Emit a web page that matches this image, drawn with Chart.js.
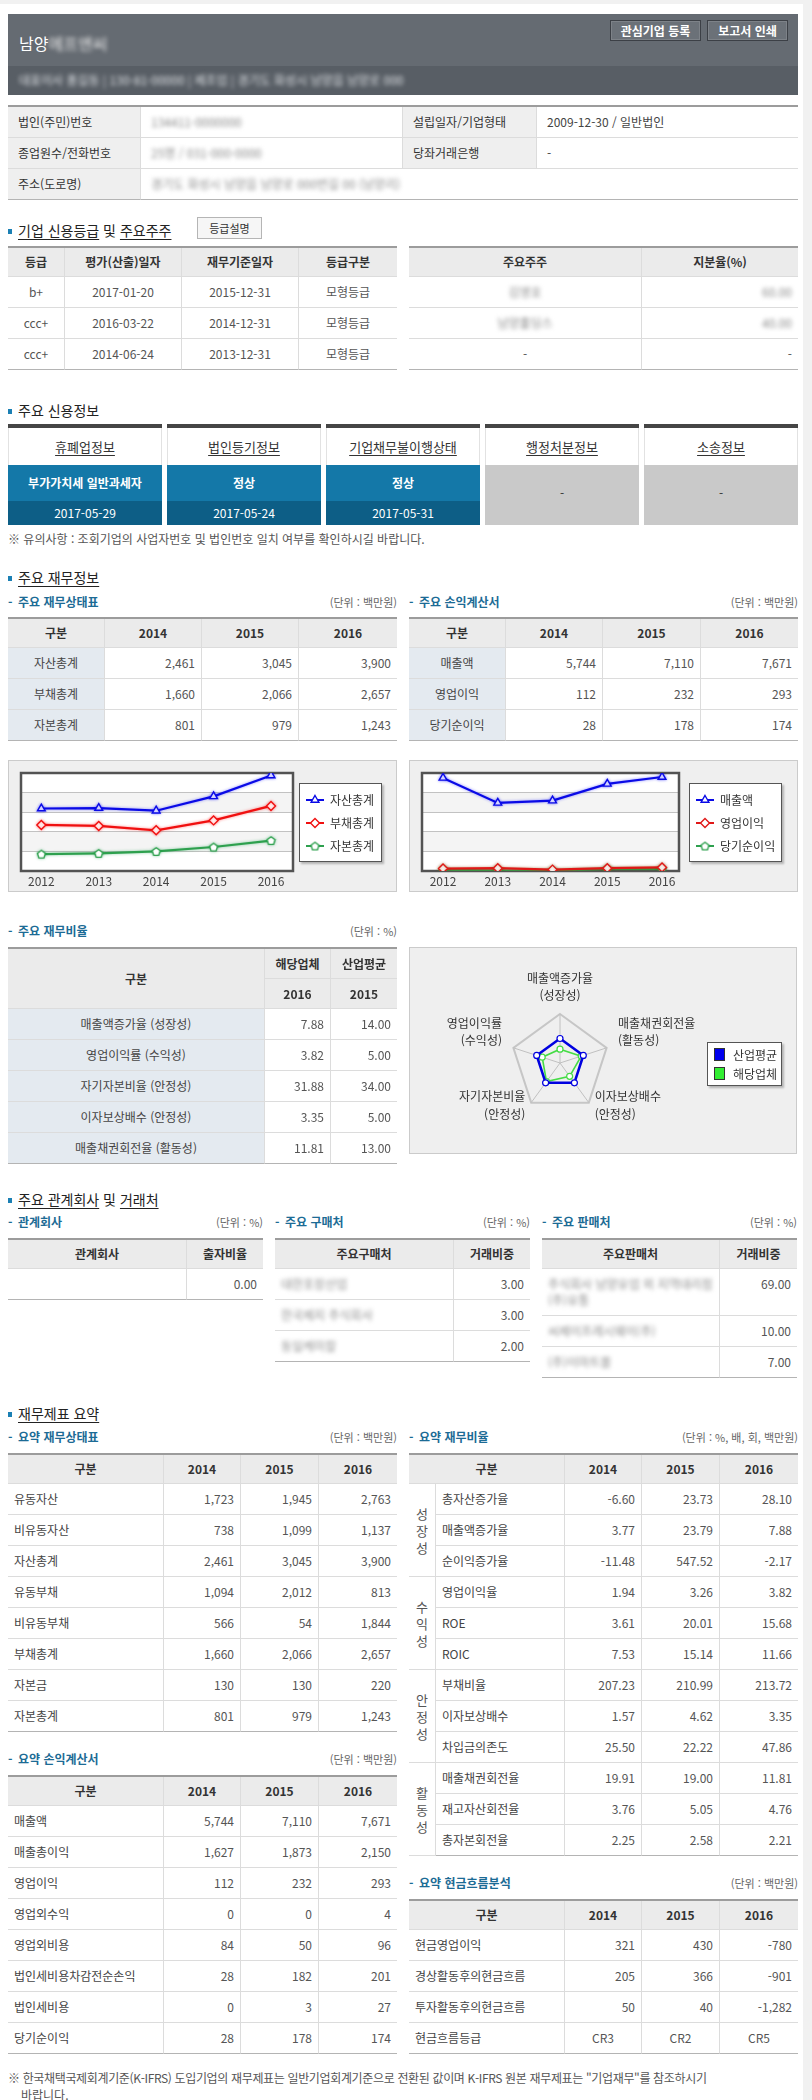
<!DOCTYPE html>
<html lang="ko">
<head>
<meta charset="utf-8">
<title>기업 신용 보고서</title>
<script src="https://cdn.jsdelivr.net/npm/chart.js@4.4.1/dist/chart.umd.min.js"></script>
<style>
body{margin:0;width:812px;height:2100px;position:relative;overflow:hidden;background:#fff;
  font-family:"Noto Sans CJK KR","Noto Sans",sans-serif;font-size:12px;color:#444}
.abs{position:absolute}
.gut-top{left:0;top:0;width:812px;height:4px;background:#f1f1f1}
.gut-right{left:803px;top:0;width:9px;height:2100px;background:#f1f1f1}
.blur{filter:blur(2px);color:#8a8a8a}
.hdr-name{left:19px;top:32px;font-size:16px;line-height:22px;color:#fff}
.hdr-sub{left:19px;top:72px;font-size:12px;line-height:16px;color:#d5d8dc}
.btn{top:20px;height:21px;box-sizing:border-box;background:#6b7178;border:1px solid #3c4046;
  box-shadow:inset 0 0 0 1px rgba(255,255,255,.12);color:#fff;font-weight:bold;font-size:12px;line-height:19px;text-align:center}
.sec{position:absolute;left:8px;padding-left:10px;font-size:14px;line-height:20px;color:#222}
.sec::before{content:'';position:absolute;left:0;top:9px;width:4px;height:5px;background:#1b80b4}
.sec u{text-underline-offset:3px}
.subrow{position:absolute;width:389px;height:16px;display:flex;justify-content:space-between;align-items:center}
.sub{position:relative;padding-left:10px;font-size:12px;font-weight:bold;color:#1c6b95;line-height:16px}
.sub::before{content:'-';position:absolute;left:0;top:0}
.unit{font-size:11px;color:#666;line-height:16px}
table{position:absolute;border-collapse:separate;border-spacing:0;table-layout:fixed;border-top:2px solid #9c9c9c;font-size:12px}
th,td{box-sizing:border-box;height:31px;padding:0 6px;border-bottom:1px solid #dcdcdc;border-right:1px solid #dcdcdc;
  white-space:nowrap;overflow:hidden;line-height:16px}
th:last-child,td:last-child{border-right:none}
th{background:#ebebeb;color:#333;font-weight:bold;height:29px;text-align:center}
td{color:#555}
tr:last-child td,td.lastrow{border-bottom:1px solid #b4b4b4}
td.c{text-align:center}
td.r{text-align:right}
td.l{text-align:left;padding-left:6px;color:#444}
td.lb{background:#e4eaf0;text-align:center;color:#444}
td.gl{background:#efefef;color:#333;padding-left:10px}
td.grp{text-align:center;padding:0;font-size:13px;line-height:17px;color:#555;border-bottom:1px solid #dcdcdc}
.btn-sm{left:197px;top:217px;width:65px;height:22px;box-sizing:border-box;border:1px solid #b5b5b5;background:#f6f6f6;
  font-size:11px;line-height:20px;text-align:center;color:#333}
.cbox{position:absolute;top:424px;width:154px}
.cb-top{height:4px;background:#454545}
.cb-link{height:37px;line-height:37px;text-align:center;font-size:13px;color:#333;text-decoration:underline;text-underline-offset:3px;
  box-shadow:inset 1px 0 0 #e2e2e2,inset -1px 0 0 #e2e2e2}
.cb-val{height:36px;line-height:36px;text-align:center;background:#1478a8;color:#fff;font-weight:bold;font-size:12px}
.cb-date{height:24px;line-height:24px;text-align:center;background:#0d5e86;color:#fff;font-size:12px}
.cb-gray{height:60px;line-height:56px;text-align:center;background:#c9c9c9;color:#333;font-size:12px}
.note{position:absolute;left:8px;font-size:12px;line-height:17px;color:#555;white-space:nowrap}
.chart-box{position:absolute;box-sizing:border-box;border:1px solid #cbcbcb;background:#efefef}
.legend{position:absolute;box-sizing:border-box;background:#fff;border:1px solid #555;box-shadow:2px 2px 2px rgba(0,0,0,.25);padding-top:4px}
.lg-row{height:23px;display:flex;align-items:center;padding-left:5px;font-size:12px;color:#333}
.lg-row canvas{margin-right:5px}
.lg-sq{width:11px;height:13px;margin-right:8px;border:1px solid #333;box-sizing:border-box}
</style>
</head>
<body>
<div class="abs gut-top"></div>
<div class="abs gut-right"></div>

<!-- header -->
<div class="abs" style="left:8px;top:14px;width:790px;height:52px;background:#656b72"></div>
<div class="abs" style="left:8px;top:66px;width:790px;height:29px;background:#585e65"></div>
<div class="abs hdr-name">남양<span class="blur" style="color:#e8e8e8">에프앤씨</span></div>
<div class="abs hdr-sub"><span class="blur" style="color:#dfe2e6">대표이사 홍길동 | 130-81-00000 | 제조업 | 경기도 화성시 남양읍 남양로 000</span></div>
<div class="abs btn" style="left:610px;width:91px">관심기업 등록</div>
<div class="abs btn" style="left:707px;width:81px">보고서 인쇄</div>

<table style="left:8px;top:105px;width:790px">
<colgroup><col style="width:133px"><col style="width:262px"><col style="width:134px"><col style="width:261px"></colgroup>
<tr><td class="gl">법인(주민)번호</td><td class="l" style="padding-left:10px"><span class="blur">134411-0000000</span></td><td class="gl">설립일자/기업형태</td><td class="l" style="padding-left:10px">2009-12-30 / 일반법인</td></tr>
<tr><td class="gl">종업원수/전화번호</td><td class="l" style="padding-left:10px"><span class="blur">25명 / 031-000-0000</span></td><td class="gl">당좌거래은행</td><td class="l" style="padding-left:10px">-</td></tr>
<tr><td class="gl">주소(도로명)</td><td class="l" colspan="3" style="padding-left:10px"><span class="blur">경기도 화성시 남양읍 남양로 000번길 00 (남양리)</span></td></tr>
</table>

<!-- credit rating -->
<div class="sec" style="top:220px"><u>기업 신용등급</u> 및 <u>주요주주</u></div>
<div class="abs btn-sm">등급설명</div>
<table id="gradeTable" style="left:8px;top:246px;width:389px">
<colgroup><col style="width:57px"><col style="width:117px"><col style="width:117px"><col style="width:98px"></colgroup>
<thead><tr><th>등급</th><th>평가(산출)일자</th><th>재무기준일자</th><th>등급구분</th></tr></thead>
<tbody></tbody>
</table>
<table style="left:409px;top:246px;width:389px">
<colgroup><col style="width:233px"><col style="width:156px"></colgroup>
<tr><th>주요주주</th><th>지분율(%)</th></tr>
<tr><td class="c"><span class="blur">김영호</span></td><td class="r"><span class="blur">60.00</span></td></tr>
<tr><td class="c"><span class="blur">남양홀딩스</span></td><td class="r"><span class="blur">40.00</span></td></tr>
<tr><td class="c">-</td><td class="r">-</td></tr>
</table>

<!-- credit info -->
<div class="sec" style="top:400px">주요 신용정보</div>
<div class="cbox" style="left:8px"><div class="cb-top"></div><div class="cb-link">휴폐업정보</div><div class="cb-val">부가가치세 일반과세자</div><div class="cb-date">2017-05-29</div></div>
<div class="cbox" style="left:167px"><div class="cb-top"></div><div class="cb-link">법인등기정보</div><div class="cb-val">정상</div><div class="cb-date">2017-05-24</div></div>
<div class="cbox" style="left:326px"><div class="cb-top"></div><div class="cb-link">기업채무불이행상태</div><div class="cb-val">정상</div><div class="cb-date">2017-05-31</div></div>
<div class="cbox" style="left:485px"><div class="cb-top"></div><div class="cb-link">행정처분정보</div><div class="cb-gray">-</div></div>
<div class="cbox" style="left:644px"><div class="cb-top"></div><div class="cb-link">소송정보</div><div class="cb-gray">-</div></div>
<div class="note" style="top:530px">※ 유의사항 : 조회기업의 사업자번호 및 법인번호 일치 여부를 확인하시길 바랍니다.</div>

<!-- key financials -->
<div class="sec" style="top:567px"><u>주요 재무정보</u></div>
<div class="subrow" style="left:8px;top:594px"><span class="sub">주요 재무상태표</span><span class="unit">(단위 : 백만원)</span></div>
<div class="subrow" style="left:409px;top:594px"><span class="sub">주요 손익계산서</span><span class="unit">(단위 : 백만원)</span></div>
<table id="bsTable" style="left:8px;top:617px;width:389px">
<colgroup><col style="width:97px"><col style="width:97px"><col style="width:97px"><col style="width:98px"></colgroup>
<thead><tr><th>구분</th><th>2014</th><th>2015</th><th>2016</th></tr></thead><tbody></tbody>
</table>
<table id="isTable" style="left:409px;top:617px;width:389px">
<colgroup><col style="width:97px"><col style="width:97px"><col style="width:98px"><col style="width:97px"></colgroup>
<thead><tr><th>구분</th><th>2014</th><th>2015</th><th>2016</th></tr></thead><tbody></tbody>
</table>

<div class="chart-box" style="left:8px;top:760px;width:389px;height:132px"></div>
<div class="chart-box" style="left:409px;top:760px;width:389px;height:132px"></div>
<canvas id="bsChart" class="abs" style="left:8px;top:760px" width="389" height="132"></canvas>
<canvas id="isChart" class="abs" style="left:409px;top:760px" width="389" height="132"></canvas>
<div id="bsLegend" class="legend" style="left:299px;top:783px;width:83px;height:79px"></div>
<div id="isLegend" class="legend" style="left:689px;top:783px;width:93px;height:79px"></div>

<!-- ratios -->
<div class="subrow" style="left:8px;top:923px"><span class="sub">주요 재무비율</span><span class="unit">(단위 : %)</span></div>
<table id="ratioTable" style="left:8px;top:947px;width:389px">
<colgroup><col style="width:257px"><col style="width:66px"><col style="width:66px"></colgroup>
<thead>
<tr><th rowspan="2" style="height:60px">구분</th><th>해당업체</th><th>산업평균</th></tr>
<tr><th>2016</th><th>2015</th></tr>
</thead><tbody></tbody>
</table>
<div class="chart-box" style="left:409px;top:947px;width:388px;height:207px"></div>
<canvas id="radarChart" class="abs" style="left:409px;top:947px" width="388" height="207"></canvas>
<div class="legend" style="left:707px;top:1042px;width:75px;height:44px;padding-top:2px">
  <div class="lg-row" style="height:19px;padding-left:6px"><div class="lg-sq" style="background:#0000ee"></div>산업평균</div>
  <div class="lg-row" style="height:19px;padding-left:6px"><div class="lg-sq" style="background:#33ee33"></div>해당업체</div>
</div>

<!-- related companies -->
<div class="sec" style="top:1189px"><u>주요 관계회사</u> 및 <u>거래처</u></div>
<div class="subrow" style="left:8px;top:1214px;width:255px"><span class="sub">관계회사</span><span class="unit">(단위 : %)</span></div>
<div class="subrow" style="left:275px;top:1214px;width:255px"><span class="sub">주요 구매처</span><span class="unit">(단위 : %)</span></div>
<div class="subrow" style="left:542px;top:1214px;width:255px"><span class="sub">주요 판매처</span><span class="unit">(단위 : %)</span></div>
<table style="left:8px;top:1238px;width:255px">
<colgroup><col style="width:179px"><col style="width:76px"></colgroup>
<tr><th>관계회사</th><th>출자비율</th></tr>
<tr><td class="l"></td><td class="r">0.00</td></tr>
</table>
<table id="buyTable" style="left:275px;top:1238px;width:255px">
<colgroup><col style="width:179px"><col style="width:76px"></colgroup>
<thead><tr><th>주요구매처</th><th>거래비중</th></tr></thead><tbody></tbody>
</table>
<table id="sellTable" style="left:542px;top:1238px;width:255px">
<colgroup><col style="width:178px"><col style="width:77px"></colgroup>
<thead><tr><th>주요판매처</th><th>거래비중</th></tr></thead><tbody></tbody>
</table>

<!-- summary -->
<div class="sec" style="top:1403px"><u>재무제표 요약</u></div>
<div class="subrow" style="left:8px;top:1429px"><span class="sub">요약 재무상태표</span><span class="unit">(단위 : 백만원)</span></div>
<div class="subrow" style="left:409px;top:1429px"><span class="sub">요약 재무비율</span><span class="unit">(단위 : %, 배, 회, 백만원)</span></div>
<table id="sumBsTable" style="left:8px;top:1453px;width:389px">
<colgroup><col style="width:156px"><col style="width:77px"><col style="width:78px"><col style="width:78px"></colgroup>
<thead><tr><th>구분</th><th>2014</th><th>2015</th><th>2016</th></tr></thead><tbody></tbody>
</table>
<table id="sumRatioTable" style="left:409px;top:1453px;width:389px">
<colgroup><col style="width:27px"><col style="width:129px"><col style="width:77px"><col style="width:78px"><col style="width:78px"></colgroup>
<thead><tr><th colspan="2">구분</th><th>2014</th><th>2015</th><th>2016</th></tr></thead><tbody></tbody>
</table>
<div class="subrow" style="left:8px;top:1751px"><span class="sub">요약 손익계산서</span><span class="unit">(단위 : 백만원)</span></div>
<table id="sumIsTable" style="left:8px;top:1775px;width:389px">
<colgroup><col style="width:156px"><col style="width:77px"><col style="width:78px"><col style="width:78px"></colgroup>
<thead><tr><th>구분</th><th>2014</th><th>2015</th><th>2016</th></tr></thead><tbody></tbody>
</table>
<div class="subrow" style="left:409px;top:1875px"><span class="sub">요약 현금흐름분석</span><span class="unit">(단위 : 백만원)</span></div>
<table id="cashTable" style="left:409px;top:1899px;width:389px">
<colgroup><col style="width:156px"><col style="width:77px"><col style="width:78px"><col style="width:78px"></colgroup>
<thead><tr><th>구분</th><th>2014</th><th>2015</th><th>2016</th></tr></thead><tbody></tbody>
</table>
<div class="note" style="top:2069px;letter-spacing:-0.35px">※ 한국채택국제회계기준(K-IFRS) 도입기업의 재무제표는 일반기업회계기준으로 전환된 값이며 K-IFRS 원본 재무제표는 "기업재무"를 참조하시기</div>
<div class="note" style="top:2086px;left:21px">바랍니다.</div>

<script>
// ---- chart data ----
const CHART_YEARS = [2012, 2013, 2014, 2015, 2016];
const ASSETS = [2550, 2570, 2461, 3045, 3900];
const LIABILITIES = [1880, 1840, 1660, 2066, 2657];
const EQUITY = [690, 720, 801, 979, 1243];
const SALES = [7600, 5560, 5744, 7110, 7671];
const OP_PROFIT = [200, 230, 112, 232, 293];
const NET_INCOME = [110, 30, 28, 178, 174];

// ---- ratio data (table + radar) ----
const RATIO_NAMES = ['매출액증가율', '영업이익률', '자기자본비율', '이자보상배수', '매출채권회전율'];
const RATIO_TYPES = ['성장성', '수익성', '안정성', '안정성', '활동성'];
const RATIO_COMPANY = [7.88, 3.82, 31.88, 3.35, 11.81];
const RATIO_INDUSTRY = [14.00, 5.00, 34.00, 5.00, 13.00];
const RADAR_ORDER = [0, 4, 3, 2, 1];   // top, then clockwise
const RADAR_REF = 50;                  // industry average sits at half radius

// ---- tables ----
const GRADES = [['b+', '2017-01-20', '2015-12-31', '모형등급'], ['ccc+', '2016-03-22', '2014-12-31', '모형등급'], ['ccc+', '2014-06-24', '2013-12-31', '모형등급']];
const BS_ROWS = [['자산총계', 2461, 3045, 3900], ['부채총계', 1660, 2066, 2657], ['자본총계', 801, 979, 1243]];
const IS_ROWS = [['매출액', 5744, 7110, 7671], ['영업이익', 112, 232, 293], ['당기순이익', 28, 178, 174]];
const BUYERS = [['대한포장산업', '3.00'], ['한국제지 주식회사', '3.00'], ['동일케미칼', '2.00']];
const SELLERS = [['주식회사 남양유업 외 지역대리점<br>(주)유통', '69.00'], ['씨제이프레시웨이(주)', '10.00'], ['(주)이마트몰', '7.00']];
const SUM_BS = [['유동자산', 1723, 1945, 2763], ['비유동자산', 738, 1099, 1137], ['자산총계', 2461, 3045, 3900], ['유동부채', 1094, 2012, 813],
  ['비유동부채', 566, 54, 1844], ['부채총계', 1660, 2066, 2657], ['자본금', 130, 130, 220], ['자본총계', 801, 979, 1243]];
const SUM_IS = [['매출액', 5744, 7110, 7671], ['매출총이익', 1627, 1873, 2150], ['영업이익', 112, 232, 293], ['영업외수익', 0, 0, 4],
  ['영업외비용', 84, 50, 96], ['법인세비용차감전순손익', 28, 182, 201], ['법인세비용', 0, 3, 27], ['당기순이익', 28, 178, 174]];
const SUM_GROUPS = ['성장성', '수익성', '안정성', '활동성'];
const SUM_RATIO = [['총자산증가율', '-6.60', '23.73', '28.10'], ['매출액증가율', '3.77', '23.79', '7.88'], ['순이익증가율', '-11.48', '547.52', '-2.17'],
  ['영업이익율', '1.94', '3.26', '3.82'], ['ROE', '3.61', '20.01', '15.68'], ['ROIC', '7.53', '15.14', '11.66'],
  ['부채비율', '207.23', '210.99', '213.72'], ['이자보상배수', '1.57', '4.62', '3.35'], ['차입금의존도', '25.50', '22.22', '47.86'],
  ['매출채권회전율', '19.91', '19.00', '11.81'], ['재고자산회전율', '3.76', '5.05', '4.76'], ['총자본회전율', '2.25', '2.58', '2.21']];
const CASH = [['현금영업이익', 321, 430, -780], ['경상활동후의현금흐름', 205, 366, -901], ['투자활동후의현금흐름', 50, 40, -1282], ['현금흐름등급', 'CR3', 'CR2', 'CR5']];

const fmt = v => typeof v === 'number' ? v.toLocaleString('en-US') : v;
const body = id => document.querySelector('#' + id + ' tbody');

function fillTables() {
    body('gradeTable').innerHTML = GRADES.map(r => `<tr>${r.map(v => `<td class="c">${v}</td>`).join('')}</tr>`).join('');
    const lbRows = rows => rows.map(r => `<tr><td class="lb">${r[0]}</td>${r.slice(1).map(v => `<td class="r">${fmt(v)}</td>`).join('')}</tr>`).join('');
    body('bsTable').innerHTML = lbRows(BS_ROWS);
    body('isTable').innerHTML = lbRows(IS_ROWS);
    body('ratioTable').innerHTML = RATIO_NAMES.map((n, i) =>
        `<tr><td class="lb">${n} (${RATIO_TYPES[i]})</td><td class="r">${RATIO_COMPANY[i].toFixed(2)}</td><td class="r">${RATIO_INDUSTRY[i].toFixed(2)}</td></tr>`).join('');
    body('buyTable').innerHTML = BUYERS.map(r => `<tr><td class="l"><span class="blur">${r[0]}</span></td><td class="r">${r[1]}</td></tr>`).join('');
    body('sellTable').innerHTML = SELLERS.map((r, i) =>
        `<tr><td class="l" style="${i === 0 ? 'height:47px;white-space:normal;vertical-align:top;padding-top:7px' : ''}"><span class="blur">${r[0]}</span></td>` +
        `<td class="r" style="${i === 0 ? 'vertical-align:top;padding-top:7px' : ''}">${r[1]}</td></tr>`).join('');
    const plain = rows => rows.map(r => `<tr><td class="l">${r[0]}</td>${r.slice(1).map(v => `<td class="${typeof v === 'string' && v.startsWith('CR') ? 'c' : 'r'}">${fmt(v)}</td>`).join('')}</tr>`).join('');
    body('sumBsTable').innerHTML = plain(SUM_BS);
    body('sumIsTable').innerHTML = plain(SUM_IS);
    body('cashTable').innerHTML = plain(CASH);
    body('sumRatioTable').innerHTML = SUM_RATIO.map((r, i) => {
        const grp = i % 3 === 0
            ? `<td rowspan="3" class="grp${i === 9 ? ' lastrow' : ''}">${SUM_GROUPS[i / 3].split('').join('<br>')}</td>` : '';
        return `<tr>${grp}<td class="l">${r[0]}</td>${r.slice(1).map(v => `<td class="r">${v}</td>`).join('')}</tr>`;
    }).join('');
}

// ---- charts ----
Chart.defaults.font.family = '"Noto Sans CJK KR", "Noto Sans", sans-serif';
Chart.defaults.font.size = 12;
Chart.defaults.color = '#444';

function pentagon(color) {
    const c = document.createElement('canvas');
    c.width = 11; c.height = 11;
    const g = c.getContext('2d');
    g.beginPath();
    for (let i = 0; i < 5; i++) {
        const a = -Math.PI / 2 + i * 2 * Math.PI / 5;
        const x = 5.5 + 4.2 * Math.cos(a), y = 6 + 4.2 * Math.sin(a);
        i ? g.lineTo(x, y) : g.moveTo(x, y);
    }
    g.closePath();
    g.fillStyle = '#fff'; g.fill();
    g.strokeStyle = color; g.lineWidth = 1.4; g.stroke();
    return c;
}

function series(label, values, color, glow, style, radius) {
    return {
        label,
        data: CHART_YEARS.map((yr, i) => ({ x: yr, y: values[i] })),
        borderColor: color,
        borderWidth: 2.2,
        glow,
        pointStyle: style,
        pointRadius: radius,
        pointHoverRadius: radius,
        pointBackgroundColor: '#fff',
        pointBorderColor: color,
        pointBorderWidth: 1.4,
        tension: 0
    };
}

const plotFrame = {
    id: 'plotFrame',
    beforeDraw(chart) {
        const { ctx, chartArea: a } = chart;
        const y = chart.scales.y;
        ctx.save();
        ctx.fillStyle = '#fff';
        ctx.fillRect(a.left, a.top, a.right - a.left, a.bottom - a.top);
        ctx.fillStyle = '#f4f4f4';
        y.ticks.forEach((t, i) => {
            if (i % 2 === 1 && i < y.ticks.length - 1) {
                const top = y.getPixelForValue(y.ticks[i + 1].value), bot = y.getPixelForValue(t.value);
                ctx.fillRect(a.left, top, a.right - a.left, bot - top);
            }
        });
        ctx.restore();
    },
    beforeDatasetsDraw(chart) {
        const { ctx, chartArea: a } = chart;
        ctx.save();
        ctx.strokeStyle = '#535353';
        ctx.lineWidth = 2.5;
        ctx.strokeRect(a.left, a.top, a.right - a.left, a.bottom - a.top);
        ctx.restore();
    },
    beforeDatasetDraw(chart, args) {
        const ds = chart.data.datasets[args.index];
        chart.ctx.save();
        chart.ctx.shadowColor = ds.glow;
        chart.ctx.shadowBlur = 3;
    },
    afterDatasetDraw(chart) {
        chart.ctx.restore();
    }
};

function lineChart(id, datasets, yMax, xMin, xMax, padRight) {
    return new Chart(document.getElementById(id), {
        type: 'line',
        data: { datasets },
        options: {
            responsive: false,
            animation: false,
            layout: { padding: { left: 13, top: 13, right: padRight, bottom: 3 } },
            plugins: { legend: { display: false }, tooltip: { enabled: false } },
            scales: {
                x: {
                    type: 'linear', min: xMin, max: xMax,
                    grid: { display: false, drawTicks: false },
                    border: { display: false },
                    afterBuildTicks: s => { s.ticks = CHART_YEARS.map(v => ({ value: v })); },
                    afterFit: s => { s.height = 18; },
                    ticks: { padding: 3, color: '#444', callback: v => String(v), maxRotation: 0 }
                },
                y: {
                    min: 0, max: yMax,
                    ticks: { display: false, stepSize: yMax / 5 },
                    grid: { color: '#c2c2c2', drawTicks: false },
                    border: { display: false },
                    afterFit: s => { s.width = 0; }
                }
            }
        },
        plugins: [plotFrame]
    });
}

function buildLegend(boxId, chart) {
    const box = document.getElementById(boxId);
    chart.data.datasets.forEach(ds => {
        const row = document.createElement('div');
        row.className = 'lg-row';
        const c = document.createElement('canvas');
        c.width = 20; c.height = 12;
        const g = c.getContext('2d');
        g.strokeStyle = ds.borderColor; g.lineWidth = 2;
        g.beginPath(); g.moveTo(1, 6); g.lineTo(19, 6); g.stroke();
        g.fillStyle = '#fff'; g.lineWidth = ds.pointBorderWidth;
        Chart.helpers.drawPoint(g, { pointStyle: ds.pointStyle, radius: ds.pointRadius, borderWidth: ds.pointBorderWidth, rotation: 0 }, 10, 6);
        row.appendChild(c);
        row.appendChild(document.createTextNode(ds.label));
        box.appendChild(row);
    });
}

const radarLabels = {
    id: 'radarLabels',
    afterDraw(chart) {
        const s = chart.scales.r, ctx = chart.ctx;
        const spots = [
            { pad: 10, align: 'center', dy: -26 },
            { pad: 12, align: 'left', dy: -21 },
            { pad: 10, align: 'left', dy: -14 },
            { pad: 10, align: 'right', dy: -14 },
            { pad: 12, align: 'right', dy: -21 }
        ];
        ctx.save();
        ctx.font = '12px "Noto Sans CJK KR"';
        ctx.fillStyle = '#333';
        ctx.textBaseline = 'middle';
        RADAR_ORDER.forEach((idx, i) => {
            const p = s.getPointPosition(i, s.drawingArea + spots[i].pad);
            ctx.textAlign = spots[i].align;
            [RATIO_NAMES[idx], '(' + RATIO_TYPES[idx] + ')'].forEach((t, k) => ctx.fillText(t, p.x, p.y + spots[i].dy + k * 17.5));
        });
        ctx.restore();
    }
};

function radarChart() {
    const industry = RADAR_ORDER.map(i => RATIO_INDUSTRY[i] / RATIO_INDUSTRY[i] * RADAR_REF);
    const company = RADAR_ORDER.map(i => RATIO_COMPANY[i] / RATIO_INDUSTRY[i] * RADAR_REF);
    return new Chart(document.getElementById('radarChart'), {
        type: 'radar',
        data: {
            labels: RADAR_ORDER.map(i => RATIO_NAMES[i]),
            datasets: [
                { label: '산업평균', data: industry, borderColor: '#0000e0', borderWidth: 2.6, fill: false,
                  pointRadius: 3, pointBackgroundColor: '#fff', pointBorderColor: '#0000e0', pointBorderWidth: 1.2 },
                { label: '해당업체', data: company, borderColor: '#45dc45', borderWidth: 1.6, fill: false,
                  pointRadius: 3, pointBackgroundColor: '#fff', pointBorderColor: '#45dc45', pointBorderWidth: 1.2 }
            ]
        },
        options: {
            responsive: false,
            animation: false,
            layout: { padding: { left: 102, top: 67, right: 187, bottom: 41 } },
            plugins: { legend: { display: false }, tooltip: { enabled: false } },
            scales: {
                r: {
                    min: 0, max: 100,
                    ticks: { display: false, stepSize: 100 },
                    grid: { color: '#c6c6c6', lineWidth: 2 },
                    angleLines: { color: '#c0c0c0', lineWidth: 1 },
                    pointLabels: { display: false }
                }
            }
        },
        plugins: [radarLabels]
    });
}

document.addEventListener('DOMContentLoaded', () => {
    fillTables();
    const bs = lineChart('bsChart', [
        series('자산총계', ASSETS, '#0a0ae6', 'rgba(0,0,255,0.45)', 'triangle', 4.5),
        series('부채총계', LIABILITIES, '#f01010', 'rgba(255,0,0,0.45)', 'rectRot', 4.5),
        series('자본총계', EQUITY, '#2ea04e', 'rgba(0,150,60,0.45)', pentagon('#2ea04e'), 5)
    ], 4000, 2011.646, 2016.383, 104);
    const is = lineChart('isChart', [
        series('매출액', SALES, '#0a0ae6', 'rgba(0,0,255,0.45)', 'triangle', 4.5),
        series('영업이익', OP_PROFIT, '#e01818', 'rgba(160,60,0,0.5)', 'rectRot', 4.5),
        series('당기순이익', NET_INCOME, '#2ea04e', 'rgba(0,150,60,0.45)', pentagon('#2ea04e'), 5)
    ], 8000, 2011.616, 2016.31, 119);
    buildLegend('bsLegend', bs);
    buildLegend('isLegend', is);
    radarChart();
});
</script>
</body>
</html>
